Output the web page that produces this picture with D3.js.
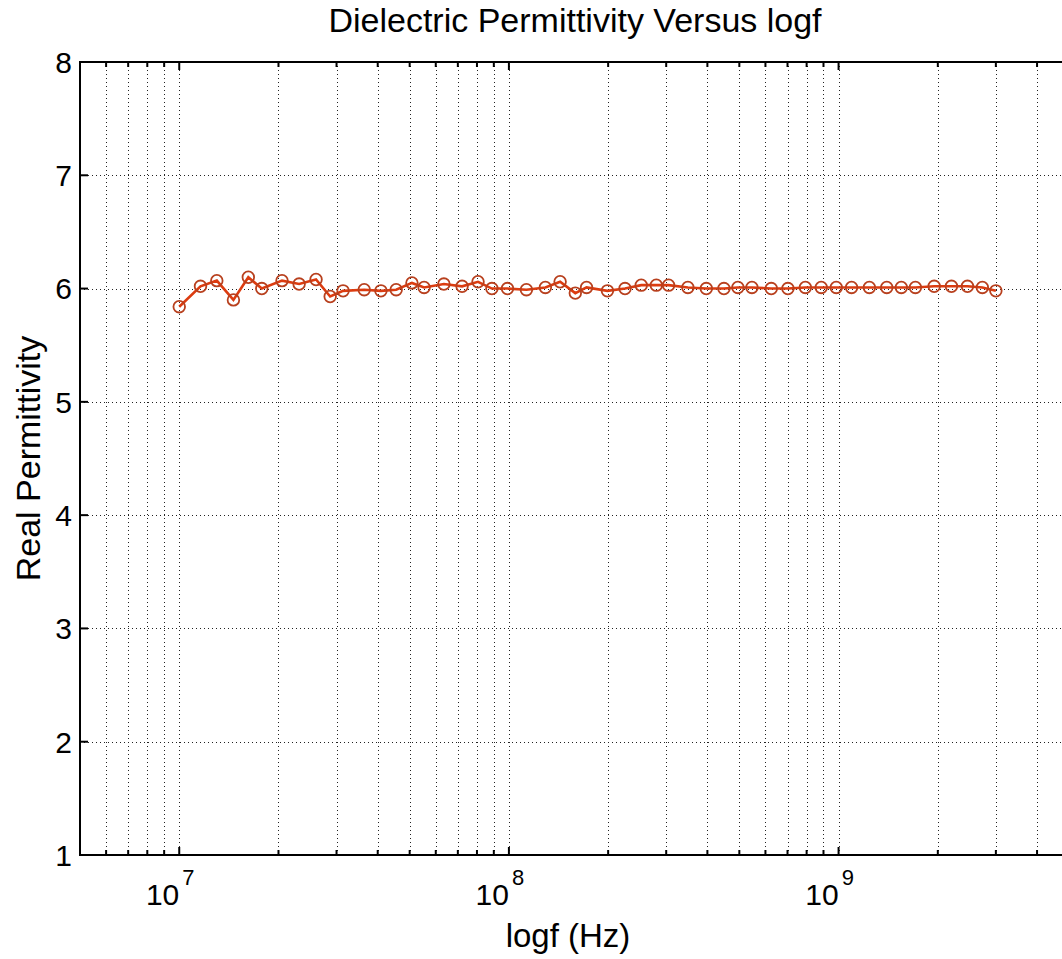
<!DOCTYPE html>
<html>
<head>
<meta charset="utf-8">
<script src="https://cdn.jsdelivr.net/npm/d3@7"></script>
<style>
  body { margin: 0; background: #fff; }
  svg { display: block; font-family: "Liberation Sans", Arial, sans-serif; }
</style>
</head>
<body>
<svg width="1062" height="959"></svg>
<script>
// frequency (Hz)
const freqHz = [
  1.00e7, 1.16e7, 1.30e7, 1.46e7, 1.62e7, 1.78e7, 2.05e7, 2.31e7, 2.60e7, 2.87e7,
  3.14e7, 3.64e7, 4.09e7, 4.55e7, 5.08e7, 5.53e7, 6.35e7, 7.21e7, 8.06e7, 8.88e7,
  9.90e7, 1.13e8, 1.29e8, 1.43e8, 1.59e8, 1.72e8, 1.99e8, 2.25e8, 2.52e8, 2.80e8,
  3.05e8, 3.49e8, 3.97e8, 4.49e8, 4.95e8, 5.46e8, 6.25e8, 7.02e8, 7.93e8, 8.86e8,
  9.84e8, 1.095e9, 1.24e9, 1.40e9, 1.55e9, 1.71e9, 1.95e9, 2.20e9, 2.46e9, 2.73e9,
  3.00e9
];
const realPerm = [
  5.84, 6.02, 6.07, 5.90, 6.10, 6.00, 6.07, 6.04, 6.08, 5.93,
  5.98, 5.99, 5.98, 5.99, 6.05, 6.01, 6.04, 6.02, 6.06, 6.00,
  6.00, 5.99, 6.01, 6.06, 5.96, 6.01, 5.98, 6.00, 6.03, 6.03,
  6.03, 6.01, 6.00, 6.00, 6.01, 6.01, 6.00, 6.00, 6.01, 6.01,
  6.01, 6.01, 6.01, 6.01, 6.01, 6.01, 6.02, 6.02, 6.02, 6.01,
  5.98
];
const xDomain = [5e6, 5e9];
const yDomain = [1, 8];
const yTicks = [1, 2, 3, 4, 5, 6, 7, 8];
const xMajor = [1e7, 1e8, 1e9];
const xMinor = [6e6, 7e6, 8e6, 9e6,
  2e7, 3e7, 4e7, 5e7, 6e7, 7e7, 8e7, 9e7,
  2e8, 3e8, 4e8, 5e8, 6e8, 7e8, 8e8, 9e8,
  2e9, 3e9, 4e9];

const svg = d3.select('svg');
const pLeft = 80, pRight = 1069, pTop = 62, pBottom = 855;

const x = d3.scaleLog().domain(xDomain).range([pLeft, pRight]);
const y = d3.scaleLinear().domain(yDomain).range([pBottom, pTop]);

const grid = svg.append('g')
  .attr('stroke', '#222')
  .attr('stroke-width', 1)
  .attr('stroke-dasharray', '1,3');

// vertical grid (major + minor)
grid.selectAll('line.vx')
  .data(xMinor.concat(xMajor))
  .enter()
  .append('line')
  .attr('x1', (d) => Math.round(x(d)) + 0.5)
  .attr('x2', (d) => Math.round(x(d)) + 0.5)
  .attr('y1', pTop)
  .attr('y2', pBottom);

// horizontal grid
grid.selectAll('line.hy')
  .data(yTicks.slice(1, -1))
  .enter()
  .append('line')
  .attr('x1', pLeft)
  .attr('x2', pRight)
  .attr('y1', (d) => Math.round(y(d)) + 0.5)
  .attr('y2', (d) => Math.round(y(d)) + 0.5);

// ticks pointing inwards
const ticks = svg.append('g').attr('stroke', '#000').attr('stroke-width', 2);
const xt = xMinor.map((d) => ({v: d, len: 5})).concat(xMajor.map((d) => ({v: d, len: 8})));
ticks.selectAll('line.b')
  .data(xt)
  .enter()
  .append('line')
  .attr('x1', (d) => x(d.v))
  .attr('x2', (d) => x(d.v))
  .attr('y1', pBottom)
  .attr('y2', (d) => pBottom - d.len);
ticks.selectAll('line.t')
  .data(xt)
  .enter()
  .append('line')
  .attr('x1', (d) => x(d.v))
  .attr('x2', (d) => x(d.v))
  .attr('y1', pTop)
  .attr('y2', (d) => pTop + d.len);
ticks.selectAll('line.l')
  .data(yTicks)
  .enter()
  .append('line')
  .attr('x1', pLeft)
  .attr('x2', pLeft + 8)
  .attr('y1', (d) => y(d))
  .attr('y2', (d) => y(d));

// axes box
svg.append('rect')
  .attr('x', pLeft)
  .attr('y', pTop)
  .attr('width', pRight - pLeft)
  .attr('height', pBottom - pTop)
  .attr('fill', 'none')
  .attr('stroke', '#000')
  .attr('stroke-width', 2);

// y tick labels
svg.append('g')
  .selectAll('text')
  .data(yTicks)
  .enter()
  .append('text')
  .attr('x', pLeft - 8)
  .attr('y', (d) => y(d))
  .attr('dy', '0.36em')
  .attr('text-anchor', 'end')
  .attr('font-size', 30)
  .text((d) => d);

// x tick labels 10^n
const xl = svg.append('g')
  .selectAll('text')
  .data(xMajor)
  .enter()
  .append('text')
  .attr('x', (d) => x(d) - 9)
  .attr('y', 905)
  .attr('text-anchor', 'middle')
  .attr('font-size', 30);
xl.append('tspan').text('10');
xl.append('tspan')
  .attr('font-size', 22)
  .attr('dy', -20)
  .attr('dx', 3)
  .text((d) => Math.round(Math.log10(d)));

// data line + circle markers
const line = d3.line()
  .x((d, i) => x(freqHz[i]))
  .y((d) => y(d));

svg.append('path')
  .datum(realPerm)
  .attr('fill', 'none')
  .attr('stroke', '#dc3c10')
  .attr('stroke-width', 2.6)
  .attr('d', line);

svg.append('g')
  .selectAll('circle')
  .data(realPerm)
  .enter()
  .append('circle')
  .attr('cx', (d, i) => x(freqHz[i]))
  .attr('cy', (d) => y(d))
  .attr('r', 5.8)
  .attr('fill', 'none')
  .attr('stroke', '#b8401e')
  .attr('stroke-width', 1.8);

// title and axis labels
svg.append('text')
  .attr('x', 575)
  .attr('y', 32)
  .attr('text-anchor', 'middle')
  .attr('font-size', 34)
  .text('Dielectric Permittivity Versus logf');

svg.append('text')
  .attr('x', 568)
  .attr('y', 947)
  .attr('text-anchor', 'middle')
  .attr('font-size', 33)
  .text('logf (Hz)');

svg.append('text')
  .attr('transform', `translate(40,${(pTop + pBottom) / 2}) rotate(-90)`)
  .attr('text-anchor', 'middle')
  .attr('font-size', 34)
  .text('Real Permittivity');
</script>
</body>
</html>
